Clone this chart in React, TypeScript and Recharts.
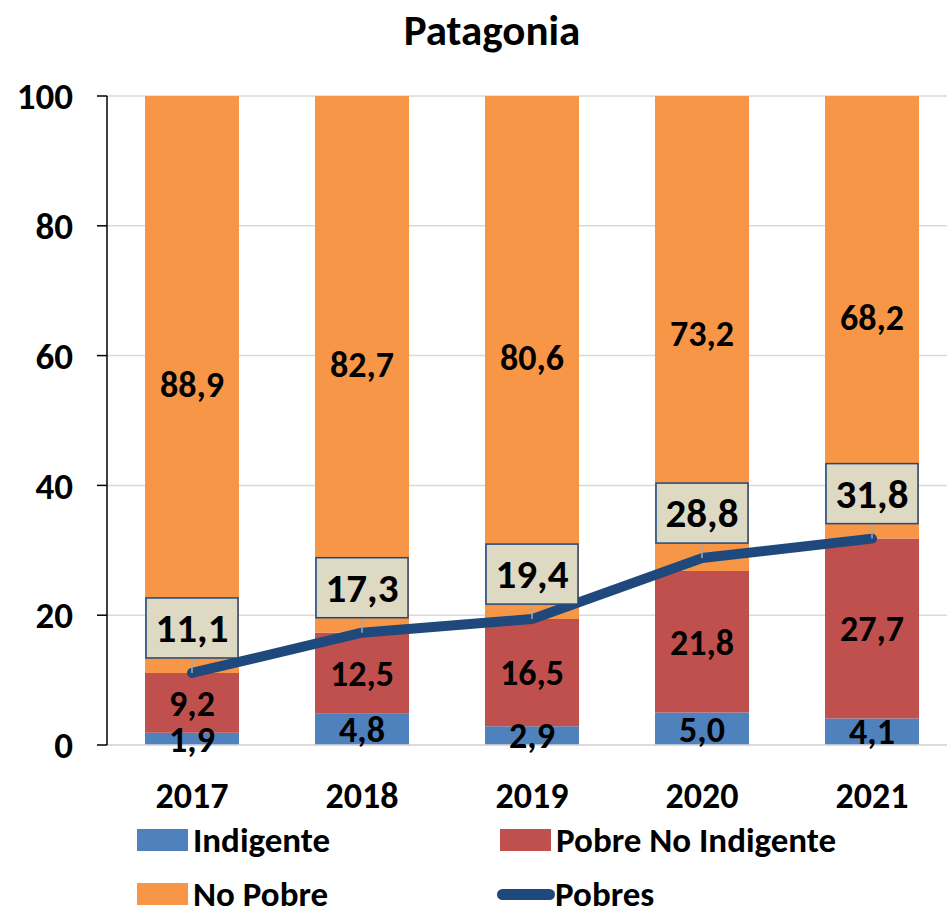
import React from "react";
import { Bar, CartesianGrid, ComposedChart, LabelList, Line, XAxis, YAxis } from "recharts";

const years = ["2017", "2018", "2019", "2020", "2021"];
const indigente = [1.9, 4.8, 2.9, 5.0, 4.1];
const pobreNoIndigente = [9.2, 12.5, 16.5, 21.8, 27.7];
const noPobre = [88.9, 82.7, 80.6, 73.2, 68.2];
const pobres = [11.1, 17.3, 19.4, 28.8, 31.8];
const yTicks = [0, 20, 40, 60, 80, 100];

const FONT = "Carlito, Calibri, Lato, 'Liberation Sans', sans-serif";
const WEIGHT = 800;
const BLUE = "#4f81bd";
const RED = "#c0504d";
const ORANGE = "#f79646";
const NAVY = "#1f497d";

const rows = years.map((year, i) => ({
  year,
  indigente: indigente[i],
  pobreNoIndigente: pobreNoIndigente[i],
  noPobre: noPobre[i],
  pobres: pobres[i],
}));

const fmt = (v: number) => Number(v).toFixed(1).replace(".", ",");

const barLabel = {
  position: "center" as const,
  fill: "#000",
  fontSize: 36,
  fontWeight: WEIGHT,
  fontFamily: FONT,
  formatter: (v: any) => fmt(v),
};

function BoxLabel(props: any) {
  const { x, y, value } = props;
  const w = 92;
  const h = 60;
  const bottom = y - 15;
  return (
    <g>
      <line x1={x} y1={bottom} x2={x} y2={y} stroke="#a6a6a6" strokeWidth={1.5} />
      <rect x={x - w / 2} y={bottom - h} width={w} height={h} fill="#ddd9c3" stroke={NAVY} strokeWidth={1.5} />
      <text
        x={x}
        y={bottom - h / 2}
        textAnchor="middle"
        dominantBaseline="central"
        fontSize={41}
        fontWeight={WEIGHT}
        fontFamily={FONT}
        fill="#000"
      >
        {fmt(value)}
      </text>
    </g>
  );
}

const legendItems = [
  { name: "Indigente", color: BLUE, left: 137, top: 840, line: false },
  { name: "Pobre No Indigente", color: RED, left: 500, top: 840, line: false },
  { name: "No Pobre", color: ORANGE, left: 137, top: 894, line: false },
  { name: "Pobres", color: NAVY, left: 497, top: 894, line: true },
];

export default function App() {
  return (
    <div
      style={{
        position: "fixed",
        left: 0,
        top: 0,
        width: 947,
        height: 917,
        overflow: "hidden",
        background: "#fff",
        fontFamily: FONT,
      }}
    >
      <div
        style={{
          position: "absolute",
          left: 292,
          width: 400,
          top: 8,
          textAlign: "center",
          fontSize: 43,
          fontWeight: WEIGHT,
          lineHeight: "46px",
        }}
      >
        Patagonia
      </div>
      <ComposedChart
        width={960}
        height={917}
        data={rows}
        margin={{ top: 96, right: 3, left: 0, bottom: 112 }}
      >
        <CartesianGrid vertical={false} stroke="#d9d9d9" strokeWidth={1.5} />
        <XAxis
          dataKey="year"
          height={60}
          axisLine={{ stroke: "#d9d9d9", strokeWidth: 1.5 }}
          tickLine={false}
          tickSize={6}
          tickMargin={31}
          tick={{ fill: "#000", fontSize: 36, fontWeight: WEIGHT, fontFamily: FONT }}
        />
        <YAxis
          width={107}
          domain={[0, 100]}
          ticks={yTicks}
          interval={0}
          axisLine={{ stroke: "#000", strokeWidth: 1.5 }}
          tickLine={{ stroke: "#000", strokeWidth: 1.5 }}
          tickSize={10}
          tickMargin={24}
          tick={{ fill: "#000", fontSize: 37, fontWeight: WEIGHT, fontFamily: FONT }}
        />
        <Bar dataKey="indigente" name="Indigente" stackId="a" fill={BLUE} barSize={94} isAnimationActive={false}>
          <LabelList dataKey="indigente" {...barLabel} />
        </Bar>
        <Bar dataKey="pobreNoIndigente" name="Pobre No Indigente" stackId="a" fill={RED} barSize={94} isAnimationActive={false}>
          <LabelList dataKey="pobreNoIndigente" {...barLabel} />
        </Bar>
        <Bar dataKey="noPobre" name="No Pobre" stackId="a" fill={ORANGE} barSize={94} isAnimationActive={false}>
          <LabelList dataKey="noPobre" {...barLabel} />
        </Bar>
        <Line
          type="linear"
          dataKey="pobres"
          name="Pobres"
          stroke={NAVY}
          strokeWidth={10}
          strokeLinecap="round"
          strokeLinejoin="round"
          dot={false}
          activeDot={false}
          isAnimationActive={false}
        >
          <LabelList dataKey="pobres" content={<BoxLabel />} />
        </Line>
      </ComposedChart>
      {legendItems.map((item) => (
        <div
          key={item.name}
          style={{
            position: "absolute",
            left: item.left,
            top: item.top - 15,
            height: 30,
            lineHeight: "30px",
            display: "flex",
            alignItems: "center",
            fontSize: 35,
            fontWeight: WEIGHT,
            whiteSpace: "nowrap",
          }}
        >
          {item.line ? (
            <span
              style={{ display: "inline-block", width: 58, height: 11, borderRadius: 6, background: item.color }}
            />
          ) : (
            <span style={{ display: "inline-block", width: 51, height: 22, background: item.color, marginRight: 5 }} />
          )}
          <span>{item.name}</span>
        </div>
      ))}
    </div>
  );
}
